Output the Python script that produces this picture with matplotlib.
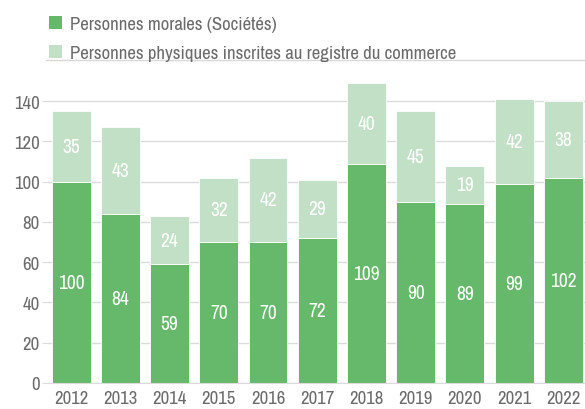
import matplotlib
matplotlib.use("Agg")
import matplotlib.pyplot as plt
from matplotlib.patches import Patch
from matplotlib.lines import Line2D

years = ["2012", "2013", "2014", "2015", "2016", "2017", "2018", "2019", "2020", "2021", "2022"]
morales = [100, 84, 59, 70, 70, 72, 109, 90, 89, 99, 102]
physiques = [35, 43, 24, 32, 42, 29, 40, 45, 19, 42, 38]
yticks = [0, 20, 40, 60, 80, 100, 120, 140]
legend_labels = ["Personnes morales (Sociétés)", "Personnes physiques inscrites au registre du commerce"]

DARK = "#66b86a"
LIGHT = "#c2e0c5"
GREY = "#6b6b6b"

plt.rcParams['font.family'] = ['Liberation Sans Narrow', 'Archivo Narrow', 'DejaVu Sans']

fig = plt.figure(figsize=(5.85, 4.10), dpi=100)
ax = fig.add_axes([48/585, 26/410, 1 - 48/585, (384-82)/410])

x = list(range(len(years)))
ax.bar(x, morales, width=0.79, color=DARK, edgecolor="white", linewidth=0.6, zorder=2)
ax.bar(x, physiques, width=0.79, bottom=morales, color=LIGHT, edgecolor="white", linewidth=0.6, zorder=2)

for i in x:
    ax.text(i, morales[i] / 2, str(morales[i]), ha="center", va="center", color="white", fontsize=14, zorder=3)
    ax.text(i, morales[i] + physiques[i] / 2, str(physiques[i]), ha="center", va="center", color="white", fontsize=14, zorder=3)

ax.set_xlim(-0.47, 10.44)
ax.set_ylim(0, 150)
ax.set_yticks(yticks)
ax.set_xticks(x)
ax.set_xticklabels(years)
ax.grid(axis="y", color="#dcdcdc", linewidth=1, zorder=0)
ax.set_axisbelow(True)
for s in ["top", "right", "left"]:
    ax.spines[s].set_visible(False)
ax.spines["bottom"].set_color("#dcdcdc")
ax.tick_params(axis="y", length=4, color="#dcdcdc", labelcolor=GREY, labelsize=13.5, pad=2)
ax.tick_params(axis="x", length=0, labelcolor=GREY, labelsize=13.5, pad=5)

handles = [Patch(facecolor=DARK, edgecolor="none"), Patch(facecolor=LIGHT, edgecolor="none")]
fig.legend(handles, legend_labels, loc="upper left", bbox_to_anchor=(41.5/585, 1 - 9/410),
           frameon=False, fontsize=13.5, labelcolor=GREY, handlelength=0.7, handleheight=0.7,
           handletextpad=0.43, labelspacing=0.7, borderaxespad=0)

fig.add_artist(Line2D([46/585, 1.0], [1 - 61/410, 1 - 61/410], color="#d8d8d8", linewidth=1))

fig.savefig("out.png", dpi=100)
